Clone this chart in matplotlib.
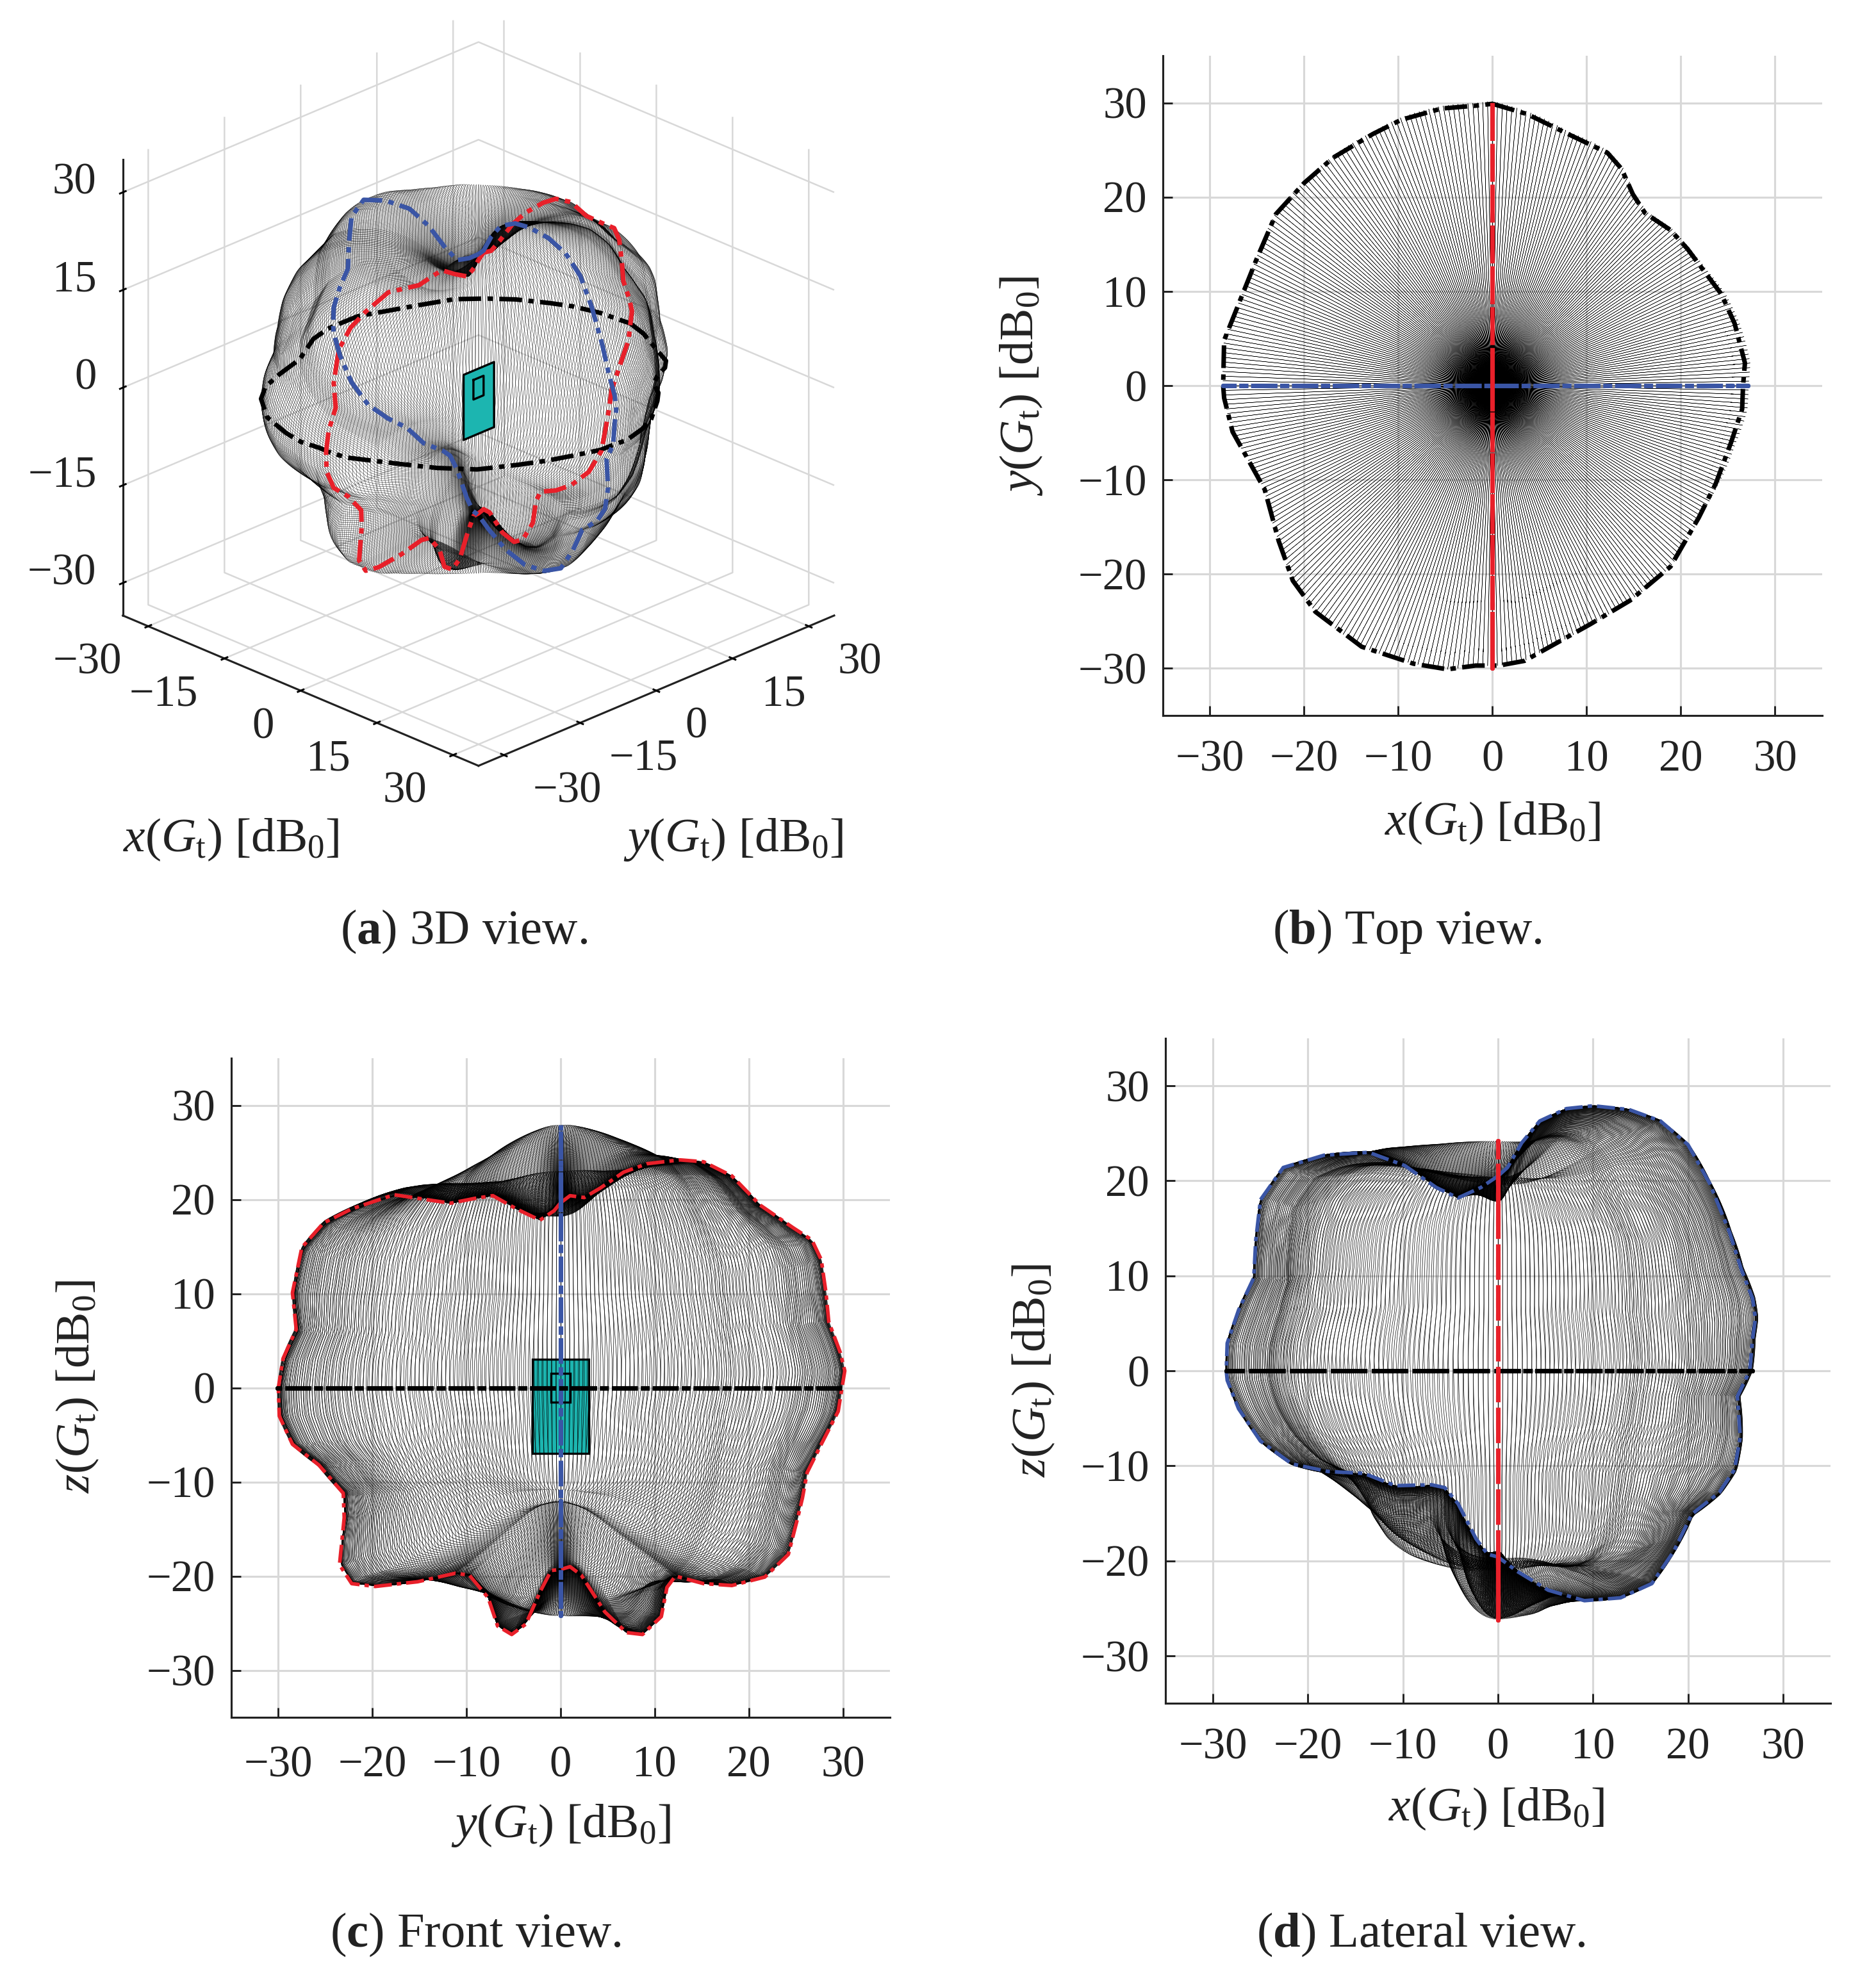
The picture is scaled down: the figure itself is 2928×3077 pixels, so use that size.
import numpy as np
import matplotlib
matplotlib.use('Agg')
import matplotlib.pyplot as plt
from matplotlib.collections import LineCollection
from matplotlib.patches import Rectangle
from mpl_toolkits.mplot3d import proj3d
from mpl_toolkits.mplot3d.art3d import Line3DCollection, Poly3DCollection

W, H = 2928, 3077

# equatorial cut, read from the top view [dB0]
black_x = [0, 3.7, 8, 12.2, 13.7, 14.9, 16.2, 18.9, 20.7, 22.5, 24.3, 25.7, 26.8, 26.6, 26.5, 25.3, 23.7, 21.9,
           18.9, 14.6, 10.4, 6.1, 3.4, 0.7, -1.8, -4.8, -8.4, -13.9, -18.8, -21.2, -22.7, -24.2, -25.7, -27.6,
           -28.5, -28.6, -28.5, -26.7, -25.1, -23, -20, -16.9, -12.7, -9.7, -5.4, -1.8]
black_y = [29.9, 28.8, 26.7, 24.7, 23, 20.3, 18.3, 16.5, 14.5, 12.1, 9.7, 6.6, 2.4, 0, -2.5, -6.1, -10.4, -14,
           -19.2, -22.8, -25.3, -27.7, -29.2, -29.7, -29.7, -30.1, -29.5, -27.7, -24, -20.7, -16.5, -11, -8.3, -4.9,
           -1.3, 0, 4.8, 9.3, 13.3, 18.2, 21.5, 24.2, 26.7, 28.2, 29.4, 29.7]

# vertical cut in the y-z plane, read from the front view
red_y = [0, 1, 2.5, 4.2, 6.7, 9.2, 12.7, 15.2, 18.2, 21.2, 24.7, 26.7, 27.7, 28.2, 28.5, 29.7, 30.2, 29.9, 29.5,
         27.7, 26.2, 25.7, 25.2, 24.2, 21.7, 18.2, 15.2, 12.2, 11.3, 10.7, 8.7, 7, 4.7, 2.2, 1, 0, -1, -2.2, -3.7,
         -5.2, -6.7, -7.7, -9.7, -11.2, -15.2, -19.7, -22.2, -23.5, -23, -23.1, -25.7, -28.5, -29.9, -30, -29.5,
         -28.1, -28.5, -27.5, -25.2, -22.2, -17.7, -11.7, -9.2, -7.2, -4.7, -2.2, -0.7]
red_z = [19.65, 20.4, 20.2, 21.2, 22.9, 23.8, 24.2, 24, 22.5, 19.4, 17, 15.7, 13.6, 10.1, 7, 3.8, 1.8, 0, -2.5,
         -6, -9, -11.7, -13.8, -17.7, -20.1, -21, -20.8, -20, -21.2, -24.3, -26.2, -26, -23.8, -19.9, -19, -19.3,
         -19.4, -21.7, -25.1, -26.2, -25.3, -22.3, -19.9, -19.7, -20.6, -21.1, -20.8, -18.8, -13.8, -11.2, -8.2,
         -6, -3, 0, 3.1, 6.2, 10.1, 14.9, 17.5, 19, 20.5, 19.6, 20.1, 20.4, 19, 17.8, 18.8]

# vertical cut in the x-z plane, read from the lateral view
blue_x = [0, 1, 2.5, 4.4, 7.2, 10, 13.8, 17.1, 20, 22.3, 24.4, 25.6, 26.8, 27.1, 26.8, 26.5, 25.2, 25.5, 24.9,
          23.3, 20.4, 18.5, 16.2, 12.9, 9.1, 5.3, 2, 0, -1.1, -2.3, -4.2, -5.6, -7, -10.8, -14.1, -17.9, -21.7,
          -25, -27.3, -28.5, -28.6, -28.5, -27.3, -25.7, -25.5, -25, -22.6, -18.3, -13.6, -9.8, -6.5, -4.2, -1.8]
blue_z = [20.5, 21.4, 24, 26.3, 27.6, 27.9, 27.5, 26.3, 23.8, 19.7, 14.5, 10.7, 7.6, 5.5, 3.4, 0, -2.7, -7, -10.4,
          -12.8, -15.1, -19, -22.4, -23.9, -24.2, -23.1, -21.1, -19.6, -19.3, -17.7, -14, -12.3, -12, -12.1, -10.8,
          -10.6, -9.8, -7.4, -4, -1, 0, 2.9, 6.4, 9.8, 13.7, 18, 21.4, 22.7, 23, 21.6, 19.3, 18.2, 19.3]

# antenna outlines in the y-z plane
patch_y = [-3, 3, 3, -3]
patch_z = [3, 3, -7, -7]
elem_y = [-1, 1, 1, -1]
elem_z = [1.5, 1.5, -1.5, -1.5]

ticks_2d = [-30, -20, -10, 0, 10, 20, 30]
ticks_3d = [-30, -15, 0, 15, 30]

c_red = '#e8202a'
c_blue = '#3a55a5'
c_teal = '#1cb5b0'
c_grid = '#d8d8d8'
c_ax = '#222222'

plt.rcParams['font.family'] = ['Liberation Serif', 'DejaVu Serif']
plt.rcParams['font.size'] = 16.5
plt.rcParams['mathtext.fontset'] = 'custom'
plt.rcParams['mathtext.rm'] = 'Liberation Serif'
plt.rcParams['mathtext.it'] = 'Liberation Serif:italic'
plt.rcParams['mathtext.bf'] = 'Liberation Serif:bold'

DASH = (0, (5, 1.4, 1.2, 1.4))
LW = 1.7
LW_THIN = 1.35


def polar_half(u, v):
    theta = np.degrees(np.arctan2(np.abs(u), v))
    order = np.argsort(theta)
    return theta[order], np.hypot(u, v)[order]


# the thin mesh cannot be read line by line, so it is built from the three cuts above
def meridians():
    bx, bz = np.array(blue_x), np.array(blue_z)
    ry, rz = np.array(red_y), np.array(red_z)
    th = np.arange(0, 181.0)
    tr = np.radians(th)
    halves = {
        'xp': polar_half(bx[bx >= 0], bz[bx >= 0]),
        'xn': polar_half(bx[bx <= 0], bz[bx <= 0]),
        'yp': polar_half(ry[ry >= 0], rz[ry >= 0]),
        'yn': polar_half(ry[ry <= 0], rz[ry <= 0]),
    }
    cuts = {k: np.interp(th, *v) for k, v in halves.items()}
    az = np.degrees(np.arctan2(black_y, black_x)) % 360
    order = np.argsort(az)
    rr = np.hypot(black_x, black_y)[order]
    lines = []
    for phi in np.arange(0, 360, 1.0):
        p = np.radians(phi)
        rx = cuts['xp'] if np.cos(p) >= 0 else cuts['xn']
        ry_ = cuts['yp'] if np.sin(p) >= 0 else cuts['yn']
        b = np.cos(p)**2 * rx + np.sin(p)**2 * ry_
        eq = np.interp(phi, az[order], rr, period=360)
        s = eq / b[90]
        r = b * (1 + (s - 1) * np.sin(tr)**2)
        lines.append(np.c_[r * np.sin(tr) * np.cos(p), r * np.sin(tr) * np.sin(p), r * np.cos(tr)])
    return np.array(lines)


mesh = meridians()


def closed(a):
    a = np.asarray(a, float)
    return np.r_[a, a[0]]


fig = plt.figure(figsize=(W / 300, H / 300), dpi=300)


def px_ax(l, t, r, b):
    return fig.add_axes([l / W, 1 - b / H, (r - l) / W, (b - t) / H])


def label(x, y, s, size=18.1, **kw):
    fig.text(x * 1.9625 / W, 1 - y * 1.9625 / H, s, ha='center', va='center', fontsize=size, color='#222222', **kw)


def style_2d(ax, xpad=9):
    ax.set_xlim(-35, 35)
    ax.set_ylim(-35, 35)
    ax.set_xticks(ticks_2d)
    ax.set_yticks(ticks_2d)
    ax.grid(True, color=c_grid, lw=0.75)
    ax.set_axisbelow(True)
    for s in ('top', 'right'):
        ax.spines[s].set_visible(False)
    for s in ('left', 'bottom'):
        ax.spines[s].set_linewidth(0.75)
        ax.spines[s].set_color(c_ax)
    ax.tick_params(direction='in', length=3.5, width=0.7, color=c_ax, labelcolor=c_ax)
    ax.tick_params(axis='x', pad=xpad)
    ax.tick_params(axis='y', pad=6)


def cut(ax, x, y, c, z=5, lw=LW):
    ax.plot(closed(x), closed(y), color=c, lw=lw, ls=DASH, zorder=z)


def fmt(t):
    return str(t).replace('-', '\u2212')


XL = r'$x(G_{\mathrm{t}})$ [dB$_{0}$]'
YL = r'$y(G_{\mathrm{t}})$ [dB$_{0}$]'
ZL = r'$z(G_{\mathrm{t}})$ [dB$_{0}$]'
zeros_k = np.zeros(len(black_x))
zeros_r = np.zeros(len(red_y))
zeros_b = np.zeros(len(blue_x))

# (b) top view
ax = px_ax(1815, 87, 2844, 1117)
style_2d(ax)
ax.add_collection(LineCollection(mesh[:, :, [0, 1]], colors='k', linewidths=0.12, zorder=2))
cut(ax, black_x, black_y, 'k', z=4)
cut(ax, zeros_r, red_y, c_red, z=6)
cut(ax, blue_x, zeros_b, c_blue)
label(1187, 655, XL)
label(812, 307, YL, rotation=90)
label(1119, 741, r'($\mathbf{b}$) Top view.', size=18.4)

# (c) front view
ax = px_ax(361, 1652, 1389, 2681)
style_2d(ax, xpad=10.5)
ax.add_patch(Rectangle((patch_y[0], patch_z[2]), patch_y[1] - patch_y[0], patch_z[0] - patch_z[2],
                       fc=c_teal, ec='k', lw=0.8, zorder=1.5))
ax.add_collection(LineCollection(mesh[:, :, [1, 2]], colors='k', linewidths=0.16, zorder=2))
ax.add_patch(Rectangle((elem_y[0], elem_z[2]), elem_y[1] - elem_y[0], elem_z[0] - elem_z[2],
                       fc='none', ec='k', lw=0.8, zorder=3))
cut(ax, red_y, red_z, c_red, z=4, lw=LW_THIN)
cut(ax, zeros_b, blue_z, c_blue)
cut(ax, black_y, zeros_k, 'k', z=6)
label(446, 1452, YL)
label(62, 1103, ZL, rotation=90)
label(378, 1539, r'($\mathbf{c}$) Front view.', size=18.4)

# (d) lateral view
ax = px_ax(1819, 1621, 2857, 2659)
style_2d(ax)
ax.add_collection(LineCollection(mesh[:, :, [0, 2]], colors='k', linewidths=0.16, zorder=2))
cut(ax, blue_x, blue_z, c_blue, z=4, lw=LW_THIN)
cut(ax, black_x, zeros_k, 'k', z=5)
cut(ax, zeros_r, red_z, c_red, z=6)
label(1190, 1439, XL)
label(822, 1090, ZL, rotation=90)
label(1130, 1539, r'($\mathbf{d}$) Lateral view.', size=18.4)

# (a) 3D view
side = 1320
ax = fig.add_axes([69 / W, 1794 / H, side / W, side / H], projection='3d', proj_type='ortho',
                  computed_zorder=False)
ax.view_init(elev=25, azim=-45)
ax.set_box_aspect((1, 1, 1))
ax.patch.set_alpha(0)
ax.set_xticks(ticks_3d)
ax.set_yticks(ticks_3d)
ax.set_zticks(ticks_3d)
for axis in (ax.xaxis, ax.yaxis, ax.zaxis):
    axis.set_pane_color((1, 1, 1, 0))
    axis.pane.set_edgecolor('none')
    axis.line.set_color(c_ax)
    axis.line.set_linewidth(0.75)
    axis._axinfo['grid']['color'] = c_grid
    axis._axinfo['grid']['linewidth'] = 0.6
    axis._axinfo['tick']['inward_factor'] = 0.1
    axis._axinfo['tick']['outward_factor'] = 0.1
    axis._axinfo['tick']['color'] = c_ax
    axis._axinfo['tick']['linewidth'] = {True: 0.7, False: 0.7}
    axis.set_tick_params(labelbottom=False, labelleft=False, labeltop=False, labelright=False)
ax.zaxis.set_ticks_position('lower')
ax.add_collection3d(Line3DCollection(mesh, colors='k', linewidths=0.1, zorder=2))
verts = [list(zip(np.zeros(4), patch_y, patch_z))]
ax.add_collection3d(Poly3DCollection(verts, facecolors=c_teal, edgecolors='k', linewidths=0.8, zorder=3))
ax.plot(np.zeros(5), closed(elem_y), closed(elem_z), color='k', lw=0.8, zorder=4)
ax.plot(closed(black_x), closed(black_y), closed(zeros_k), color='k', lw=LW, ls=DASH, zorder=5)
ax.plot(closed(zeros_r), closed(red_y), closed(red_z), color=c_red, lw=LW, ls=DASH, zorder=6)
ax.plot(closed(blue_x), closed(zeros_b), closed(blue_z), color=c_blue, lw=LW, ls=DASH, zorder=7)
ax.set_xlim(-35, 35)
ax.set_ylim(-35, 35)
ax.set_zlim(-35, 35)


# tick labels placed by hand, mplot3d pushes them too far down
def text3(x, y, z, s, ha):
    xp, yp, _ = proj3d.proj_transform(x, y, z, ax.get_proj())
    ax.text2D(xp, yp, s, ha=ha, va='center', color=c_ax, transform=ax.transData)


for t in ticks_3d:
    text3(t, -40.2, -38.9, fmt(t), 'right')
    text3(40.7, t, -38.7, fmt(t), 'left')
    text3(-37.6, -37.6, t + 1.45, fmt(t), 'right')
label(184, 668, XL)
label(583, 668, YL)
label(369, 741, r'($\mathbf{a}$) 3D view.', size=18.4)

fig.savefig('out.png', dpi=300, facecolor='white')
